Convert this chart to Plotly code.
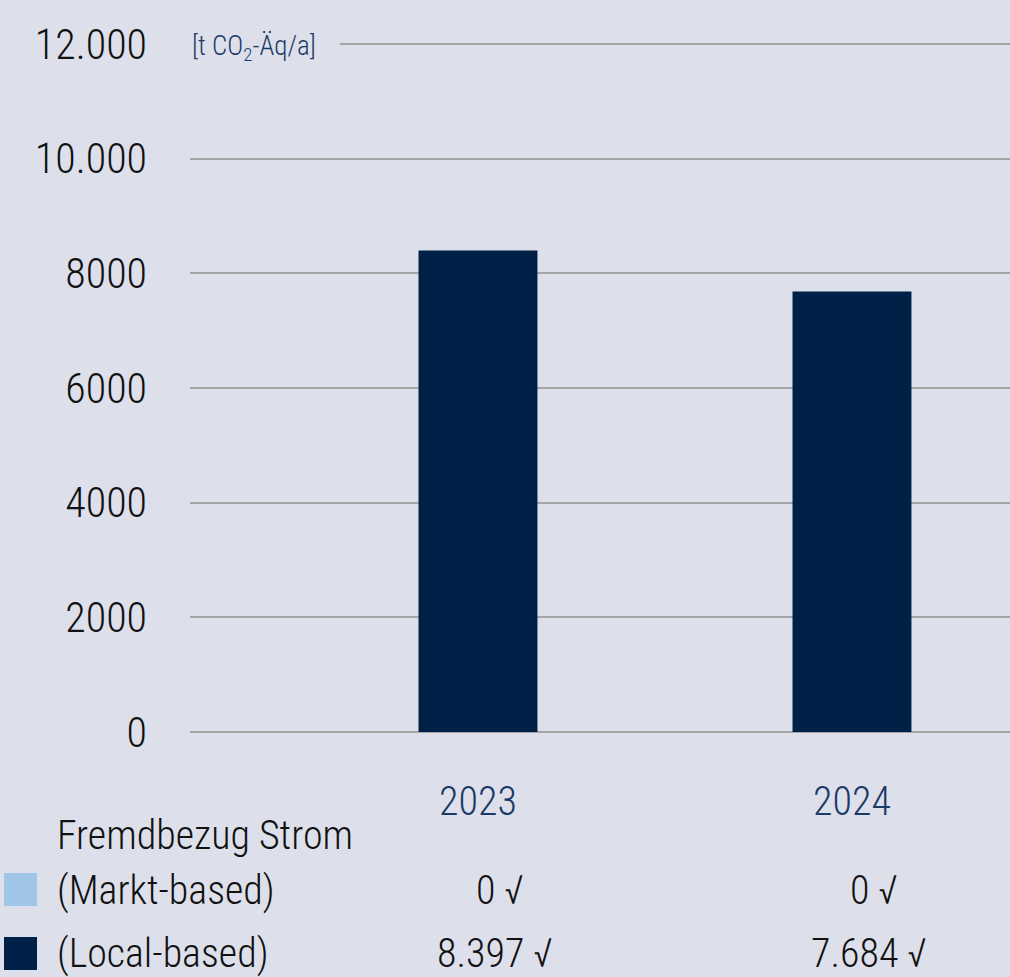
import plotly.graph_objects as go

years = [2023, 2024]
local_based = [8397, 7684]
markt_based = [0, 0]
y_tickvals = [0, 2000, 4000, 6000, 8000, 10000, 12000]
y_ticktext = ["0", "2000", "4000", "6000", "8000", "10.000", "12.000"]
unit_label = "[t CO<sub>2</sub>-Äq/a]"
group_label = "Fremdbezug Strom"
markt_label = "(Markt-based)"
local_label = "(Local-based)"

BG = "#dde0eb"
NAVY = "#002147"
LIGHT = "#9fc5e8"
GRID = "#a5a5a8"
TEXT_NAVY = "#1c3a66"
BLACK = "#111111"
FONT = "Roboto Condensed, Liberation Sans Narrow, DejaVu Sans Condensed, sans-serif"
W300 = 300


def de_fmt(v):
    return f"{v:,}".replace(",", ".")


fig = go.Figure()
fig.add_trace(go.Bar(x=years, y=markt_based, marker=dict(color=LIGHT, line=dict(width=0)),
                     width=0.318, name=markt_label, showlegend=False))
fig.add_trace(go.Bar(x=years, y=local_based, marker=dict(color=NAVY, line=dict(width=0)),
                     width=0.318, name=local_label, showlegend=False))

# plot area: x 190..1010 px, y 40..736 px; value 0 -> 732 px, 12000 -> 44 px
L, R, T, B = 190, 1010, 40, 736
W, H = R - L, B - T
PAD = 4 * 12000 / 688
Y0, Y1 = -PAD, 12000 + PAD


def px(xp):
    return (xp - L) / W


def py(yp):
    return (B - yp) / H


fig.update_layout(
    width=1010, height=977,
    margin=dict(l=L, r=1010 - R, t=T, b=977 - B),
    paper_bgcolor=BG, plot_bgcolor=BG,
    barmode="overlay",
    font=dict(family=FONT, color=BLACK, weight=W300),
    xaxis=dict(range=[2022.23, 2024.4225], tickvals=years, ticktext=[str(y) for y in years],
               showgrid=False, zeroline=False, showline=False, ticks="",
               tickfont=dict(size=40, color=TEXT_NAVY, weight=W300), ticklabelstandoff=38),
    yaxis=dict(range=[Y0, Y1], tickvals=y_tickvals, ticktext=y_ticktext,
               showgrid=True, gridcolor=GRID, gridwidth=2, zeroline=False, showline=False,
               ticks="", tickfont=dict(size=42, color=BLACK, weight=W300), ticklabelstandoff=42),
)

# hide gridline behind unit label
fig.add_shape(type="rect", xref="paper", yref="paper", x0=-0.01, x1=px(340), y0=py(56), y1=py(32),
              fillcolor=BG, line=dict(width=0), layer="above")
fig.add_annotation(xref="paper", yref="paper", x=px(190), y=py(48), xanchor="left", yanchor="middle",
                   text=unit_label, showarrow=False, font=dict(size=27, color=TEXT_NAVY, weight=W300))

# legend table
fig.add_annotation(xref="paper", yref="paper", x=px(55), y=py(835), xanchor="left", yanchor="middle",
                   text=group_label, showarrow=False, font=dict(size=40, color=BLACK, weight=W300))
fig.add_annotation(xref="paper", yref="paper", x=px(55), y=py(890), xanchor="left", yanchor="middle",
                   text=markt_label, showarrow=False, font=dict(size=40, color=BLACK, weight=W300))
fig.add_annotation(xref="paper", yref="paper", x=px(55), y=py(954), xanchor="left", yanchor="middle",
                   text=local_label, showarrow=False, font=dict(size=40, color=BLACK, weight=W300))
fig.add_shape(type="rect", xref="paper", yref="paper", x0=px(4), x1=px(37), y0=py(906), y1=py(873),
              fillcolor=LIGHT, line=dict(width=0))
fig.add_shape(type="rect", xref="paper", yref="paper", x0=px(4), x1=px(37), y0=py(970), y1=py(937),
              fillcolor=NAVY, line=dict(width=0))

for yr, m, l in zip(years, markt_based, local_based):
    fig.add_annotation(xref="x", yref="paper", x=yr, y=py(890), xanchor="center", yanchor="middle",
                       xshift=22, text=f"{de_fmt(m)} √", showarrow=False,
                       font=dict(size=40, color=BLACK, weight=W300))
    fig.add_annotation(xref="x", yref="paper", x=yr, y=py(954), xanchor="center", yanchor="middle",
                       xshift=17, text=f"{de_fmt(l)} √", showarrow=False,
                       font=dict(size=40, color=BLACK, weight=W300))

fig.write_html("out.html", config={"displayModeBar": False},
               post_script="document.body.style.margin='0';")
